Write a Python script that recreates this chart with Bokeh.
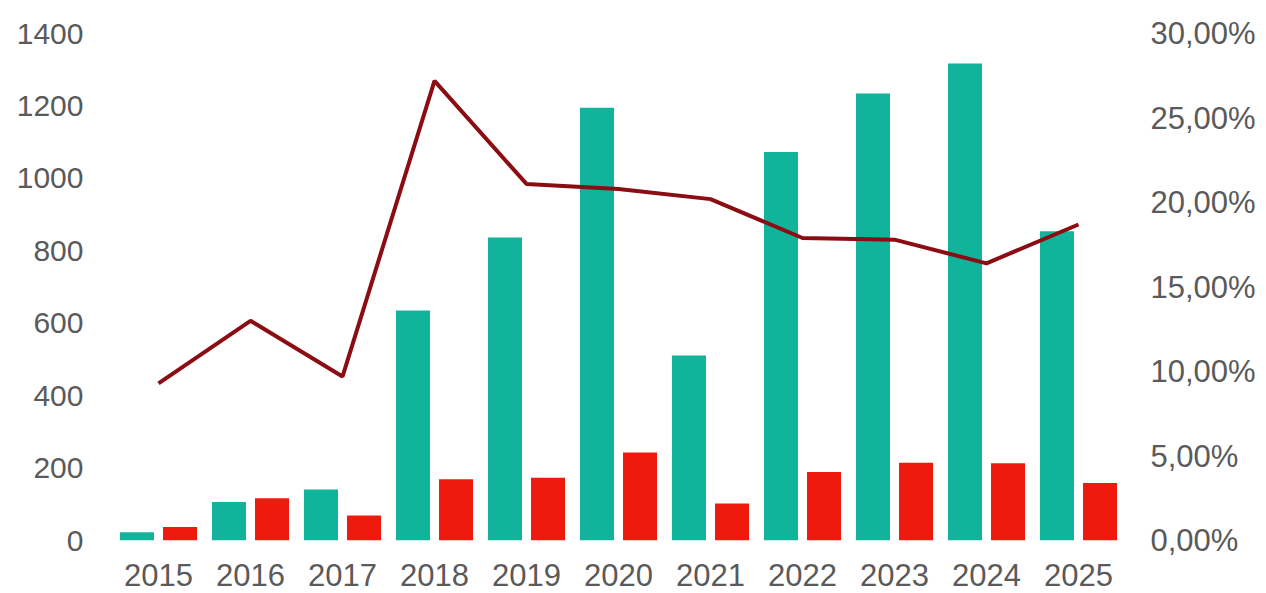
from bokeh.plotting import figure
from bokeh.models import (FactorRange, Range1d, LinearAxis, FixedTicker,
                          CustomJSTickFormatter, ColumnDataSource)
from bokeh.transform import dodge
from bokeh.embed import file_html
from bokeh.resources import INLINE

years = ["2015", "2016", "2017", "2018", "2019", "2020", "2021", "2022", "2023", "2024", "2025"]
teal_values = [23, 106, 141, 635, 837, 1195, 511, 1073, 1234, 1317, 854]
red_values = [37, 117, 69, 169, 173, 243, 102, 189, 215, 213, 159]
pct_values = [9.3, 13.0, 9.7, 27.2, 21.1, 20.8, 20.2, 17.9, 17.8, 16.4, 18.7]
left_ticks = [0, 200, 400, 600, 800, 1000, 1200, 1400]
right_ticks = [0, 5, 10, 15, 20, 25, 30]

src = ColumnDataSource(dict(year=years, teal=teal_values, red=red_values, pct=pct_values))

FONT = "Liberation Sans"
LABEL_COLOR = "#5a5a5a"

p = figure(width=1266, height=593, x_range=FactorRange(factors=years, range_padding=0),
           y_range=Range1d(0, 1400), output_backend="svg", toolbar_location=None,
           min_border_left=112, min_border_right=142, min_border_top=33, min_border_bottom=53)
p.extra_y_ranges = {"pct": Range1d(0, 30)}

p.vbar(x=dodge("year", -0.234, range=p.x_range), top="teal", width=0.37, source=src,
       fill_color="#12B39B", line_color=None)
p.vbar(x=dodge("year", 0.234, range=p.x_range), top="red", width=0.37, source=src,
       fill_color="#EE1A0E", line_color=None)
p.line(x="year", y="pct", source=src, y_range_name="pct", line_color="#8B0C12", line_width=4)

p.xgrid.visible = False
p.ygrid.visible = False
p.outline_line_color = None
p.background_fill_color = "white"
p.border_fill_color = "white"

def style(ax, standoff, fs):
    ax.axis_line_color = None
    ax.major_tick_line_color = None
    ax.minor_tick_line_color = None
    ax.major_tick_out = 0
    ax.major_tick_in = 0
    ax.major_label_text_font = FONT
    ax.major_label_text_font_size = fs
    ax.major_label_text_color = LABEL_COLOR
    ax.major_label_standoff = standoff

p.yaxis.ticker = FixedTicker(ticks=left_ticks)
style(p.yaxis[0], 29, "30px")
style(p.xaxis[0], 23, "31px")

raxis = LinearAxis(y_range_name="pct", ticker=FixedTicker(ticks=right_ticks),
                   formatter=CustomJSTickFormatter(code="return tick.toFixed(2).replace('.', ',') + '%';"))
style(raxis, 26, "31px")
p.add_layout(raxis, "right")

open("out.html", "w").write(file_html(p, INLINE))
